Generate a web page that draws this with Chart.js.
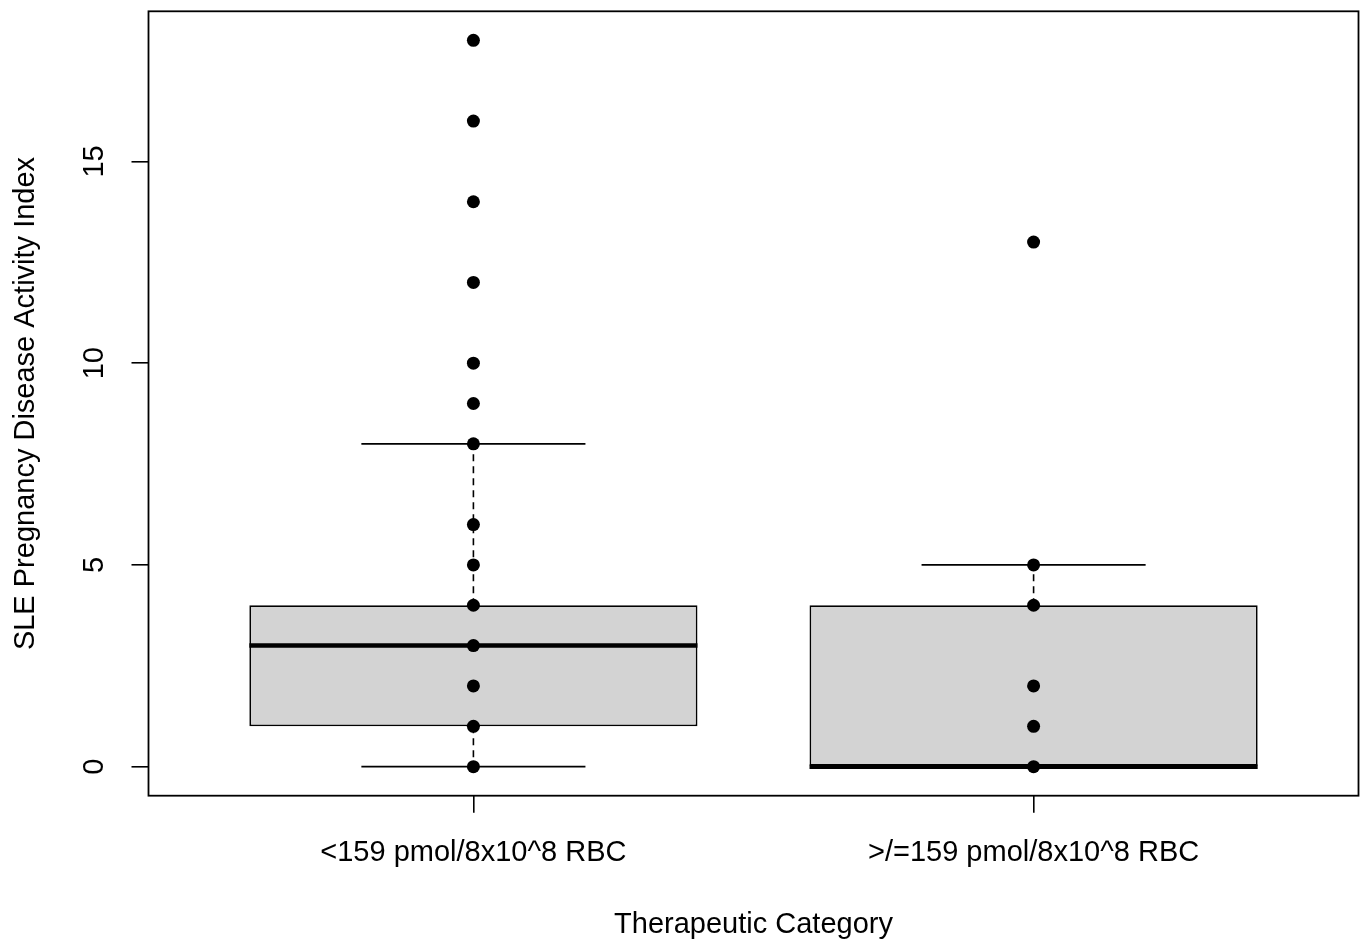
<!DOCTYPE html>
<html>
<head>
<meta charset="utf-8">
<script src="https://cdn.jsdelivr.net/npm/chart.js@4/dist/chart.umd.min.js"></script>
<style>
  html, body { margin: 0; padding: 0; background: #fff; }
  #wrap { width: 1360px; height: 941px; }
</style>
</head>
<body>
<div id="wrap"><canvas id="c" width="1360" height="941"></canvas></div>
<script>
// ---- data ----
const categories = ['<159 pmol/8x10^8 RBC', '>/=159 pmol/8x10^8 RBC'];
const lowerWhisker = [0, 0];
const q1 = [1, 0];
const median = [3, 0];
const q3 = [4, 4];
const upperWhisker = [8, 5];
const pointsLow = [0, 1, 2, 3, 4, 5, 6, 8, 9, 10, 12, 14, 16, 18];
const pointsHigh = [0, 1, 2, 4, 5, 13];
const yTicks = [0, 5, 10, 15];
const xTitle = 'Therapeutic Category';
const yTitle = 'SLE Pregnancy Disease Activity Index';

// ---- style constants ----
const FONT = 'Liberation Sans, Arial, sans-serif';
const FS = 29;
const BOX_HALF = 0.4;
const CAP_HALF = 0.2;
const pointGroups = [pointsLow, pointsHigh];

const datasets = [];
// boxes (floating bars)
datasets.push({
  type: 'bar',
  data: categories.map((c, i) => ({ x: i + 1, y: [q1[i], q3[i]] })),
  backgroundColor: '#d3d3d3',
  borderColor: '#000',
  borderWidth: 1.8,
  borderSkipped: false,
  barPercentage: 0.8,
  categoryPercentage: 1,
  order: 5
});
categories.forEach((c, i) => {
  const cx = i + 1;
  // whiskers (dashed)
  datasets.push({ type: 'line', data: [{x: cx, y: q3[i]}, {x: cx, y: upperWhisker[i]}],
    borderColor: '#000', borderWidth: 1.6, borderDash: [7, 5], pointRadius: 0, fill: false, order: 4 });
  datasets.push({ type: 'line', data: [{x: cx, y: q1[i]}, {x: cx, y: lowerWhisker[i]}],
    borderColor: '#000', borderWidth: 1.6, borderDash: [7, 5], pointRadius: 0, fill: false, order: 4 });
  // caps
  datasets.push({ type: 'line', data: [{x: cx - CAP_HALF, y: upperWhisker[i]}, {x: cx + CAP_HALF, y: upperWhisker[i]}],
    borderColor: '#000', borderWidth: 1.6, pointRadius: 0, fill: false, order: 3 });
  datasets.push({ type: 'line', data: [{x: cx - CAP_HALF, y: lowerWhisker[i]}, {x: cx + CAP_HALF, y: lowerWhisker[i]}],
    borderColor: '#000', borderWidth: 1.6, pointRadius: 0, fill: false, order: 3 });
  // median
  datasets.push({ type: 'line', data: [{x: cx - BOX_HALF, y: median[i]}, {x: cx + BOX_HALF, y: median[i]}],
    borderColor: '#000', borderWidth: 4.5, borderCapStyle: 'butt', pointRadius: 0, fill: false, order: 2 });
  // points
  datasets.push({ type: 'scatter', data: pointGroups[i].map(v => ({x: cx, y: v})),
    backgroundColor: '#000', borderColor: '#000', pointRadius: 6.5, borderWidth: 0, order: 0 });
});

const framePlugin = {
  id: 'frame',
  afterDatasetsDraw(chart) {
    const {ctx, chartArea: a} = chart;
    ctx.save();
    ctx.strokeStyle = '#000';
    ctx.lineWidth = 1.8;
    ctx.strokeRect(a.left, a.top, a.right - a.left, a.bottom - a.top);
    ctx.restore();
  }
};

new Chart(document.getElementById('c'), {
  type: 'bar',
  data: { datasets },
  plugins: [framePlugin],
  options: {
    responsive: false,
    animation: false,
    layout: { autoPadding: false, padding: { top: 11.3, right: 1.5, left: 0, bottom: 0 } },
    plugins: { legend: { display: false }, tooltip: { enabled: false } },
    scales: {
      x: {
        type: 'linear',
        min: 0.42, max: 2.58,
        offset: false,
        afterBuildTicks: s => { s.ticks = categories.map((c, i) => ({ value: i + 1 })); },
        afterFit: s => { s.height = 145.3; s.paddingLeft = 0; s.paddingRight = 0; },
        ticks: {
          callback: v => categories[Math.round(v) - 1],
          font: { family: FONT, size: FS },
          color: '#000',
          padding: 23,
          maxRotation: 0, minRotation: 0, autoSkip: false
        },
        grid: { offset: false, drawOnChartArea: false, drawTicks: true, tickLength: 17, color: '#000', lineWidth: 1.6 },
        border: { display: false },
        title: { display: true, text: xTitle, font: { family: FONT, size: FS, lineHeight: 1.1 }, color: '#000', padding: { top: 0, bottom: 0 } }
      },
      y: {
        type: 'linear',
        min: -0.72, max: 18.72,
        afterBuildTicks: s => { s.ticks = yTicks.map(v => ({ value: v })); },
        afterFit: s => { s.width = 148.5; s.paddingTop = 0; s.paddingBottom = 0; },
        ticks: {
          font: { family: FONT, size: FS },
          color: '#000',
          padding: 20,
          minRotation: 90, maxRotation: 90,
          crossAlign: 'center'
        },
        grid: { drawOnChartArea: false, drawTicks: true, tickLength: 17, color: '#000', lineWidth: 1.6 },
        border: { display: false },
        title: { display: true, text: yTitle, font: { family: FONT, size: FS }, color: '#000', padding: { top: 9, bottom: 0 } }
      }
    }
  }
});
</script>
</body>
</html>
